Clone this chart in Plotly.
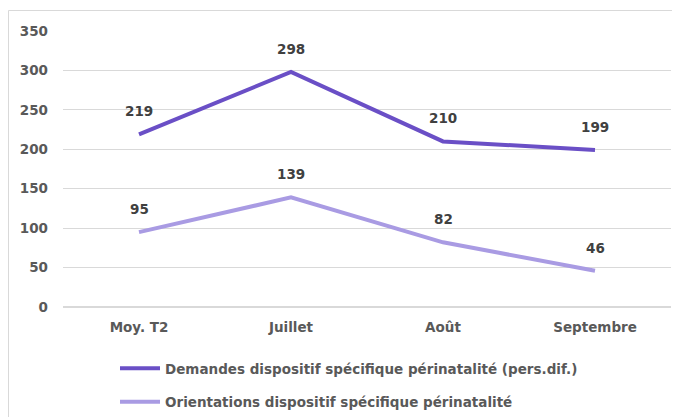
import plotly.graph_objects as go

categories = ["Moy. T2", "Juillet", "Août", "Septembre"]
demandes = [219, 298, 210, 199]
orientations = [95, 139, 82, 46]
series_names = ["Demandes dispositif spécifique périnatalité (pers.dif.)",
                "Orientations dispositif spécifique périnatalité"]
y_ticks = [0, 50, 100, 150, 200, 250, 300, 350]

# the page body adds an 8px offset; the figure is sized to fill the rest of the window
OFF = 8
W, H = 680 - OFF, 417 - OFF
L, R, T, B = 63 - OFF, 9, 31 - OFF, 110
pw, ph = W - L - R, H - T - B

def px_x(px):
    return (px - OFF - L) / pw

def px_y(py):
    return (H - B - (py - OFF)) / ph

FONT = "DejaVu Sans"
GRAY = "#595959"
LABEL = "#404040"
colors = ["#6A4FC6", "#A99BE3"]
FS = 13.5

fig = go.Figure()
for name, vals, col, grp in [(series_names[0], demandes, colors[0], "a"),
                             (series_names[1], orientations, colors[1], "b")]:
    fig.add_trace(go.Scatter(
        x=categories, y=vals, name=name, mode="lines",
        line=dict(color=col, width=4), legendgroup=grp))
    for c, v in zip(categories, vals):
        fig.add_annotation(x=c, y=v, text=str(v), showarrow=False, yshift=23,
                           font=dict(family=FONT, size=FS, color=LABEL, weight="bold"))

# outer chart border (left and top visible)
fig.add_shape(type="line", xref="paper", yref="paper", x0=px_x(8.5), x1=px_x(700),
              y0=px_y(10.5), y1=px_y(10.5), line=dict(color="#D9D9D9", width=1))
fig.add_shape(type="line", xref="paper", yref="paper", x0=px_x(8.5), x1=px_x(8.5),
              y0=px_y(10.5), y1=px_y(430), line=dict(color="#D9D9D9", width=1))

fig.update_layout(
    width=W, height=H, margin=dict(l=L, r=R, t=T, b=B, autoexpand=False),
    plot_bgcolor="white", paper_bgcolor="white",
    font=dict(family=FONT, color=GRAY, size=FS),
    showlegend=True,
    legend=dict(x=px_x(115), y=px_y(353), xanchor="left", yanchor="top",
                orientation="v", traceorder="grouped", tracegroupgap=13,
                font=dict(family=FONT, size=FS, color=GRAY, weight="bold"),
                itemwidth=40, bgcolor="rgba(0,0,0,0)"),
    xaxis=dict(range=[-0.5, 3.5], showgrid=False, zeroline=False, showline=False,
               ticks="", tickfont=dict(family=FONT, size=FS, color=GRAY, weight="bold"),
               ticklabelstandoff=10),
    yaxis=dict(range=[0, 350], tickvals=y_ticks, showgrid=True, gridcolor="#D9D9D9",
               gridwidth=1, zeroline=True, zerolinecolor="#D9D9D9", showline=False,
               ticks="", tickfont=dict(family=FONT, size=FS, color=GRAY, weight="bold"),
               ticklabelstandoff=14),
)

fig.write_html("out.html")
